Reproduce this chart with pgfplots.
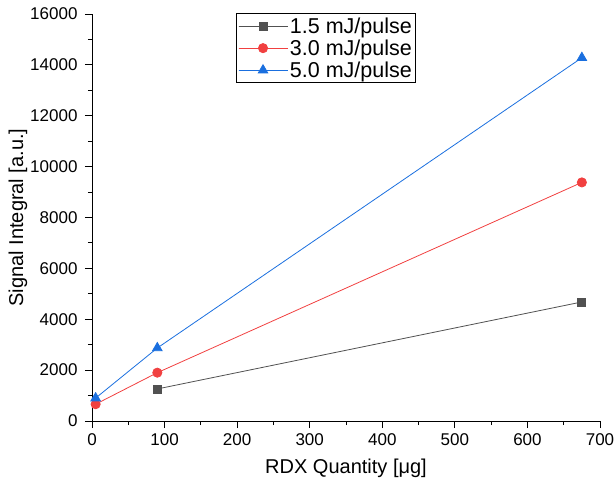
\documentclass[border=0pt]{standalone}
\usepackage{fontspec}
\setmainfont{Liberation Sans}
\usepackage{pgfplots}
\pgfplotsset{compat=1.18}
\definecolor{origray}{HTML}{515151}
\definecolor{orired}{HTML}{F14040}
\definecolor{oriblue}{HTML}{1A6FDF}

\begin{document}
\begin{tikzpicture}
\begin{axis}[
  name=ax,
  scale only axis, width=508pt, height=407pt,
  xmin=0, xmax=700, ymin=0, ymax=16000,
  axis lines=left, axis line style={-, line width=0.9pt},
  xtick={0,100,...,700}, ytick={0,2000,...,16000},
  minor x tick num=1, minor y tick num=1,
  scaled ticks=false,
  tick align=outside, tick style={black, line width=0.9pt},
  major tick length=7pt, minor tick length=4pt,
  /pgf/number format/1000 sep={},
  /pgf/number format/assume math mode=true,
  tick label style={font=\fontsize{17}{19}\selectfont},
  xticklabel style={yshift=-2pt}, yticklabel style={xshift=-4pt},
  label style={font=\fontsize{20}{22}\selectfont},
  xlabel={RDX Quantity [μg]}, ylabel={Signal Integral [a.u.]},
  xlabel style={yshift=-7pt}, ylabel style={yshift=-4pt},
  legend style={at={(0.283,1.002)}, anchor=north west, draw=black, line width=0.7pt,
    font=\fontsize{21.5}{25}\selectfont, inner xsep=2pt, inner ysep=2pt, row sep=1pt},
  legend cell align=left,
  legend image code/.code={\draw[#1] (0pt,0pt) -- (49pt,0pt); \draw[#1, mark repeat=2, mark phase=2] plot coordinates {(0pt,0pt) (24.5pt,0pt) (49pt,0pt)};},
  every axis plot/.append style={line width=0.8pt},
  clip=false
]
\addplot[origray, mark=square*, mark size=4pt, mark options={solid}] coordinates {(90,1260) (675,4680)};
\addlegendentry{1.5 mJ/pulse}
\addplot[orired, mark=*, mark size=4.6pt] coordinates {(5,660) (90,1900) (675,9380)};
\addlegendentry{3.0 mJ/pulse}
\addplot[oriblue, mark=triangle*, mark size=5.5pt] coordinates {(5,900) (90,2870) (675,14280)};
\addlegendentry{5.0 mJ/pulse}
\end{axis}
\pgfresetboundingbox
\path[use as bounding box] ([shift={(-92pt,-71pt)}]ax.south west) rectangle ([shift={(14pt,14pt)}]ax.north east);
\end{tikzpicture}
\end{document}
